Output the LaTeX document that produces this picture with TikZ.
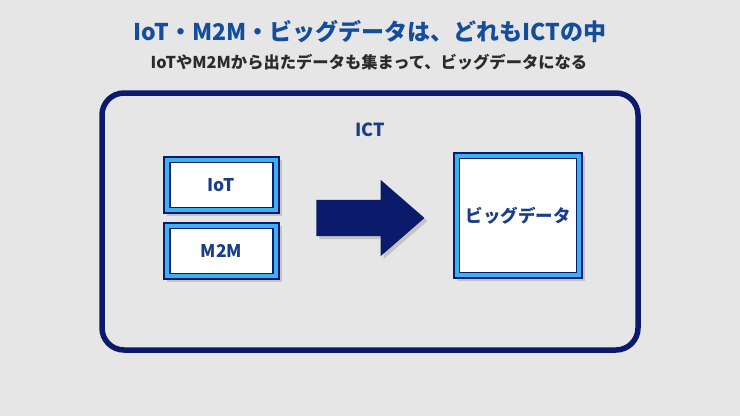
\documentclass[tikz,border=0pt]{standalone}
\usepackage{fontspec}
\setmainfont{Noto Sans CJK JP}
\usetikzlibrary{shadows,shapes.arrows}
\definecolor{bg}{HTML}{E6E6E6}
\definecolor{titleblue}{HTML}{134D9C}
\definecolor{textblue}{HTML}{1A3D8A}
\definecolor{navy}{HTML}{0C1A6B}
\definecolor{lightblue}{HTML}{3CB1F0}
\definecolor{subgray}{HTML}{2B2B2B}
\definecolor{shadowgray}{HTML}{C4C4C4}
\tikzset{
  boxshadow/.style={drop shadow={shadow xshift=3pt,shadow yshift=-3pt,fill=shadowgray,opacity=1}},
  outerbox/.style={draw=navy,line width=1.3pt,fill=lightblue,inner sep=0pt,boxshadow},
  innerbox/.style={draw=navy,line width=1.3pt,fill=white,inner sep=0pt,text=textblue,font=\fontsize{17.5}{20}\selectfont\bfseries},
  bigarrow/.style={single arrow,fill=navy,draw=none,inner xsep=0pt,inner ysep=18pt,minimum height=108pt,minimum width=76pt,single arrow head extend=20pt,single arrow tip angle=82,boxshadow},
}
\begin{document}
\begin{tikzpicture}[x=1pt,y=-1pt]
\useasboundingbox (0,0) rectangle (740,416);
\fill[bg] (0,0) rectangle (740,416);
\node[text=titleblue,font=\fontsize{23}{26}\selectfont\bfseries] (title) at (370,32) {IoT・M2M・ビッグデータは、どれもICTの中};
\node[text=subgray,font=\fontsize{16.3}{19}\selectfont\bfseries] (sub) at (369,62) {IoTやM2Mから出たデータも集まって、ビッグデータになる};
\draw[navy,line width=5.5pt,rounded corners=22pt] (102,93) rectangle (638,350);
\node[text=textblue,font=\fontsize{18}{21}\selectfont\bfseries] (ict) at (370,130) {ICT};
\node[outerbox,minimum width=115pt,minimum height=56pt] (iotO) at (221.5,185) {};
\node[innerbox,minimum width=103pt,minimum height=45pt] (iot) at (iotO.center) {IoT};
\node[outerbox,minimum width=115pt,minimum height=56pt] (m2mO) at (221.5,251) {};
\node[innerbox,minimum width=103pt,minimum height=45pt] (m2m) at (m2mO.center) {M2M};
\node[outerbox,minimum width=128pt,minimum height=125pt] (bdO) at (518,215.5) {};
\node[innerbox,minimum width=117pt,minimum height=114pt] (bd) at (bdO.center) {ビッグデータ};
\node[bigarrow] (arr) at (360,218) {};
\end{tikzpicture}
\end{document}
